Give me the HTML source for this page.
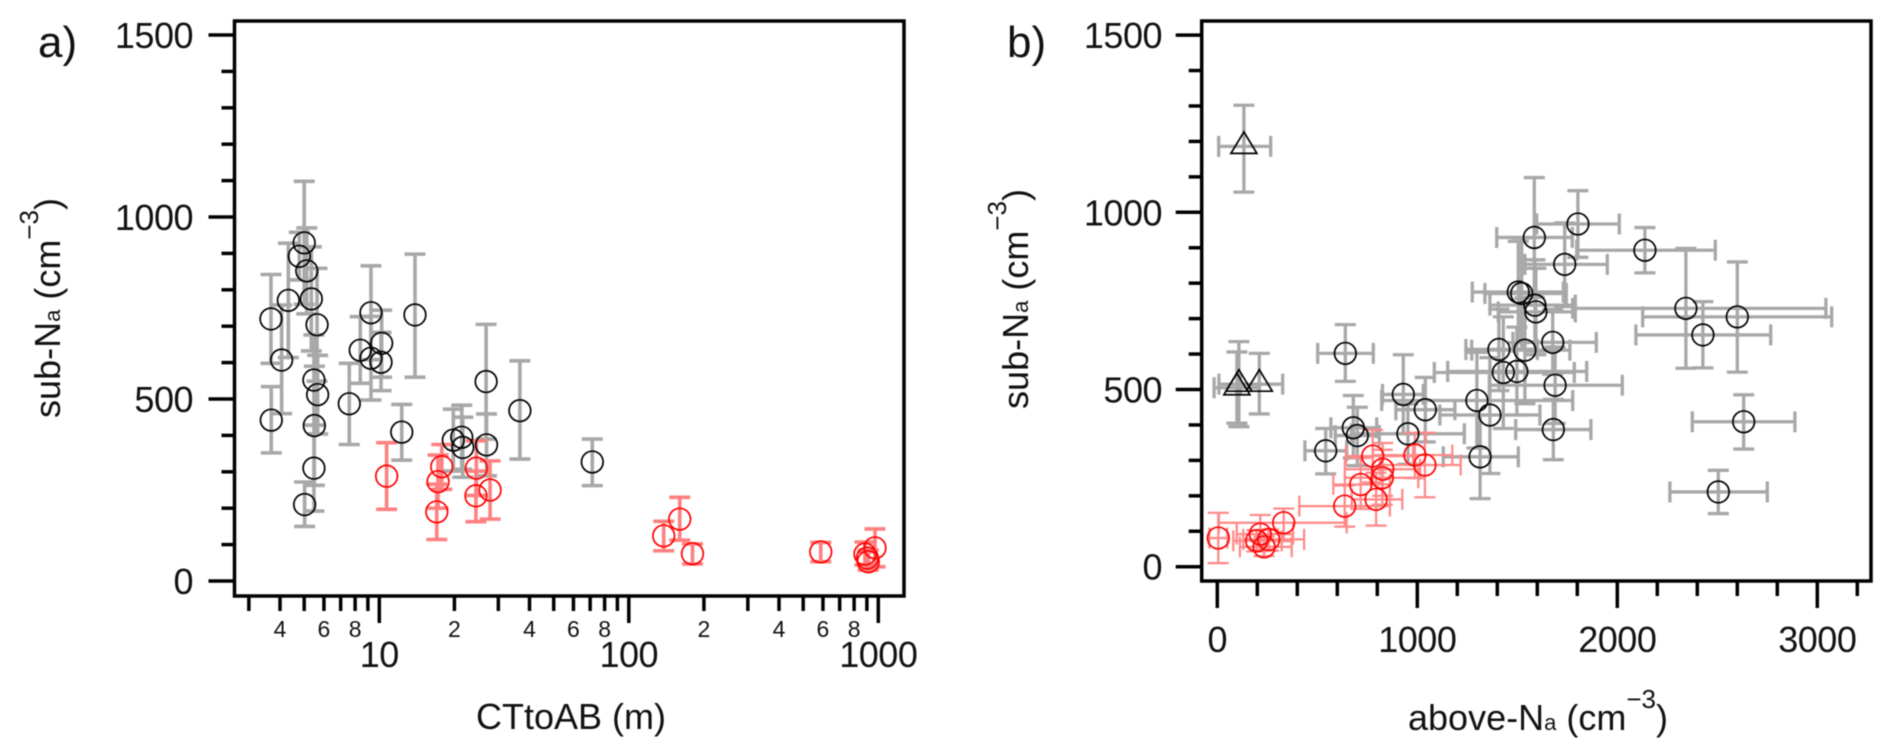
<!DOCTYPE html>
<html>
<head>
<meta charset="utf-8">
<title>sub-Na scatter panels</title>
<style>
html,body{margin:0;padding:0;background:#fff;}
svg{display:block;font-family:"Liberation Sans",Arial,sans-serif;fill:#111;filter:blur(0.4px);}
.num{font-size:36px;letter-spacing:-0.5px;}
.small{font-size:23px;}
.lab{font-size:36px;}
</style>
</head>
<body>
<svg id="fig" xmlns="http://www.w3.org/2000/svg" width="1892" height="756" viewBox="0 0 1892 756"></svg>
<script>
// Panel a, black circles
const aBlackX=[3.68,3.69,4.06,4.32,4.78,5.00,5.12,5.34,5.63,5.47,5.66,5.49,5.47,5.02,7.58,8.39,9.26,9.26,10.22,10.16,12.3,13.9,19.8,21.4,21.6,26.8,26.9,36.6,71.4];
const aBlackY=[720,442,607,771,892,929,852,775,704,552,512,427,310,210,487,634,737,612,653,601,409,731,387,395,367,548,374,468,327];
const aBlackTop=[842,534,758,928,958,1098,970,918,859,676,620,590,428,272,598,726,866,727,744,683,485,898,472,483,450,705,459,605,390];
const aBlackBot=[598,352,460,614,827,760,734,632,549,428,404,263,192,150,375,543,608,497,560,523,332,560,302,307,285,390,289,335,262];
// Panel a, red circles
const aRedX=[10.7,17.8,17.2,17.0,24.5,24.4,27.8,138,160,180,588,884,970,912,904];
const aRedY=[288,314,273,190,310,234,250,124,170,75,80,74,91,53,63];
const aRedTop=[380,375,346,266,385,302,330,164,230,102,106,107,143,85,80];
const aRedBot=[197,252,200,114,235,163,170,83,112,47,53,44,39,30,45];
// Panel b, black circles
const bBlackX=[1803,1585,1737,2138,2343,2600,2428,2632,2505,1677,1689,1680,1505,1522,1588,1593,1408,1538,1430,1498,930,1040,1298,1363,953,1314,680,700,542,640];
const bBlackL=[1597,1397,1538,1797,1777,2127,2093,2375,2263,1478,1360,1492,1275,1338,1363,1405,1243,1272,1085,1152,826,893,822,1113,671,1130,568,590,438,502];
const bBlackR=[2010,1775,1950,2490,3043,3072,2767,2888,2750,1895,2025,1868,1730,1745,1790,1790,1600,1763,1785,1847,1030,1188,1777,1613,1235,1505,797,810,647,780];
const bBlackY=[967,929,853,893,729,705,654,409,211,633,512,387,775,771,738,719,613,611,548,551,486,443,469,428,375,310,392,370,327,602];
const bBlackTop=[1061,1098,970,957,898,860,748,485,272,726,620,472,918,928,866,842,727,758,705,676,598,534,605,590,459,428,483,450,390,683];
const bBlackBot=[873,760,734,829,560,549,561,332,150,543,404,302,632,614,608,598,497,460,390,428,375,352,335,263,289,192,307,285,262,523];
// Panel b, triangles
const bTriX=[133,108,98,210];
const bTriL=[7,8,-16,115];
const bTriR=[267,210,210,327];
const bTriY=[1186,515,505,515];
const bTriTop=[1302,635,606,602];
const bTriBot=[1057,395,405,431];
// Panel b, red circles
const bRedX=[777,827,825,717,794,988,1038,637,332,5,215,197,257,234];
const bRedL=[643,638,638,580,672,778,813,410,8,-40,97,80,130,113];
const bRedR=[979,1014,1005,863,925,1175,1217,863,647,50,379,322,434,372];
const bRedY=[312,275,251,232,190,315,287,171,124,81,92,73,77,56];
const bRedTop=[386,349,330,307,265,378,378,229,164,152,146,103,105,85];
const bRedBot=[238,200,175,163,116,250,196,113,72,10,47,43,45,30];
// Ticks
const yMajorTicks=[0,500,1000,1500];
const yMinorTicks=[100,200,300,400,600,700,800,900,1100,1200,1300,1400];
const aDecades=[10,100,1000];
const aMinorTicks=[3,4,5,6,7,8,9,20,30,40,50,60,70,80,90,200,300,400,500,600,700,800,900];
const aSmallLabels=[4,6,8,20,40,60,80,200,400,600,800];
const aSmallText=['4','6','8','2','4','6','8','2','4','6','8'];
const bMajorTicks=[0,1000,2000,3000];
const bMinorTicks=[200,400,600,800,1200,1400,1600,1800,2200,2400,2600,2800,3200];

const NS='http://www.w3.org/2000/svg';
const svg=document.getElementById('fig');
function el(tag,attrs,parent){
  const e=document.createElementNS(NS,tag);
  for(const k in attrs)e.setAttribute(k,attrs[k]);
  (parent||svg).appendChild(e);
  return e;
}
function group(name){
  const g=el('g',{});
  
  
  return g;
}
// Axis functions
const xA=v=>379.3+249.5*(Math.log10(v)-1);
const yA=v=>581-0.364*v;
const xB=v=>1217.3+0.2*v;
const yB=v=>566.7-0.3544*v;
const A={l:234.5,r:904,t:21,b:596,lab:193,tickBase:596};
const B={l:1201.7,r:1871,t:21,b:581,lab:1162,tickBase:581};

function line(g,x1,y1,x2,y2,col,w){
  return el('line',{x1:x1,y1:y1,x2:x2,y2:y2,stroke:col,'stroke-width':w},g);
}
function text(g,x,y,str,cls,anchor){
  const t=el('text',{x:x,y:y,class:cls,'text-anchor':anchor||'middle'},g);
  t.textContent=str;
  return t;
}
function frame(P,name){
  const r=el('rect',{x:P.l,y:P.t,width:P.r-P.l,height:P.b-P.t,fill:'none',stroke:'#000','stroke-width':3.5});
  
  
}
function yAxis(P,y,name){
  const g=group(name);
  yMajorTicks.forEach(v=>{
    line(g,P.l-26,y(v),P.l,y(v),'#000',3.5);
    text(g,P.lab,y(v)+13,String(v),'num','end');
  });
  yMinorTicks.forEach(v=>line(g,P.l-13,y(v),P.l,y(v),'#000',3.5));
}
function crosses(g,xs,ys,top,bot,xf,yf,col,w,L,R){
  xs.forEach((v,i)=>{
    const x=xf(v),y=yf(ys[i]);
    line(g,x,yf(top[i]),x,yf(bot[i]),col,w);
    line(g,x-10.5,yf(top[i]),x+10.5,yf(top[i]),col,w);
    line(g,x-10.5,yf(bot[i]),x+10.5,yf(bot[i]),col,w);
    if(L){
      const xl=xf(L[i]),xr=xf(R[i]);
      line(g,xl,y,xr,y,col,w);
      line(g,xl,y-10.5,xl,y+10.5,col,w);
      line(g,xr,y-10.5,xr,y+10.5,col,w);
    }
  });
}
function circles(name,xs,ys,xf,yf,col){
  const g=group(name);
  xs.forEach((v,i)=>{
    const c=el('circle',{cx:xf(v),cy:yf(ys[i]),r:10.8,fill:'none',stroke:col,'stroke-width':1.7},g);
    
    
  });
}

// Panel a
const aErrBlack=group('a-black-error-bars');
crosses(aErrBlack,aBlackX,aBlackY,aBlackTop,aBlackBot,xA,yA,'#a8a8a8',3.6);
const aErrRed=group('a-red-error-bars');
crosses(aErrRed,aRedX,aRedY,aRedTop,aRedBot,xA,yA,'#ff8080',3.6);
circles('a-black-series',aBlackX,aBlackY,xA,yA,'#000');
circles('a-red-series',aRedX,aRedY,xA,yA,'#ff0000');
frame(A,'a-plot-frame');
yAxis(A,yA,'a-y-axis');
const aX=group('a-x-axis');
aDecades.forEach(v=>{
  line(aX,xA(v),A.b,xA(v),A.b+27,'#000',3.5);
  text(aX,xA(v),667,String(v),'num');
});
aMinorTicks.forEach(v=>line(aX,xA(v),A.b,xA(v),A.b+15,'#000',3.5));
aSmallLabels.forEach((v,i)=>text(aX,xA(v),637,aSmallText[i],'small'));

// Panel b
const bErrBlack=group('b-black-error-bars');
crosses(bErrBlack,bBlackX,bBlackY,bBlackTop,bBlackBot,xB,yB,'#a8a8a8',3.3,bBlackL,bBlackR);
crosses(bErrBlack,bTriX,bTriY,bTriTop,bTriBot,xB,yB,'#a8a8a8',3.3,bTriL,bTriR);
const bErrRed=group('b-red-error-bars');
crosses(bErrRed,bRedX,bRedY,bRedTop,bRedBot,xB,yB,'#ff8888',2.2,bRedL,bRedR);
circles('b-black-series',bBlackX,bBlackY,xB,yB,'#000');
circles('b-red-series',bRedX,bRedY,xB,yB,'#ff0000');
const triG=group('b-triangle-series');
bTriX.forEach((v,i)=>{
  const x=xB(v),y=yB(bTriY[i]);
  const p=el('polygon',{points:[[x,y-14.5],[x-13,y+7],[x+13,y+7]].join(' '),fill:'none',stroke:'#000','stroke-width':1.7},triG);
  
  
});
frame(B,'b-plot-frame');
yAxis(B,yB,'b-y-axis');
const bX=group('b-x-axis');
bMajorTicks.forEach(v=>{
  line(bX,xB(v),B.b,xB(v),B.b+27,'#000',3.5);
  text(bX,xB(v),652,String(v),'num');
});
bMinorTicks.forEach(v=>line(bX,xB(v),B.b,xB(v),B.b+15,'#000',3.5));

// Titles
function yTitle(name,x,y){
  const t=el('text',{transform:'translate('+x+' '+y+') rotate(-90)','text-anchor':'middle',class:'lab'});
  
  
  t.innerHTML='sub-N<tspan font-size="22">a</tspan> (cm<tspan font-size="26" dy="-22">−3</tspan><tspan dy="22">)</tspan>';
}
yTitle('a-y-axis-title',60,308);
yTitle('b-y-axis-title',1028,299);
const xtA=el('text',{x:571,y:729,'text-anchor':'middle',class:'lab'});


xtA.textContent='CTtoAB (m)';
const xtB=el('text',{x:1538,y:730,'text-anchor':'middle',class:'lab'});


xtB.innerHTML='above-N<tspan font-size="22">a</tspan> (cm<tspan font-size="26" dy="-22">−3</tspan><tspan dy="22">)</tspan>';
const pa=el('text',{x:38,y:57,'font-size':44});


pa.textContent='a)';
const pb=el('text',{x:1007,y:57,'font-size':44});


pb.textContent='b)';
</script>
</body>
</html>
